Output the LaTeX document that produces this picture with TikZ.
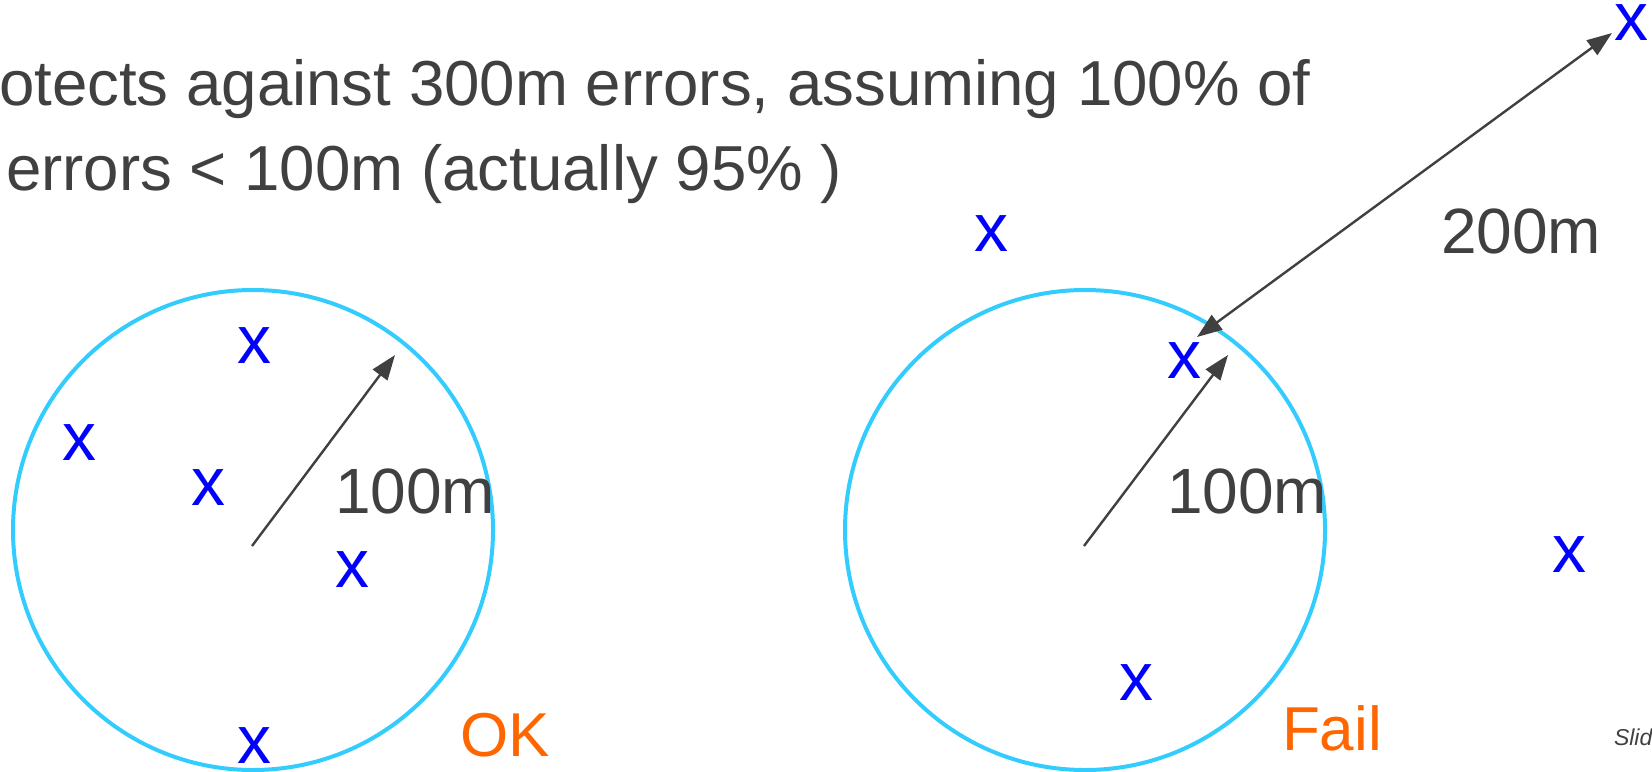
\documentclass[tikz,border=0pt]{standalone}
\usepackage{fontspec}
\setmainfont{Liberation Sans}
\usetikzlibrary{arrows.meta}
\definecolor{ink}{HTML}{404040}
\definecolor{ring}{HTML}{33CCFF}
\definecolor{fix}{HTML}{0000FF}
\definecolor{verdict}{HTML}{FF6600}

\begin{document}
\begin{tikzpicture}[
  x=0.5pt,y=-0.5pt,
  every node/.style={inner sep=0pt,outer sep=0pt},
  zone/.style={circle,draw=ring,line width=2pt,minimum size=240pt},
  fixmark/.style={text=fix,font=\fontsize{34}{40}\selectfont},
  body/.style={anchor=base west,text=ink,font=\fontsize{31.8}{38}\selectfont},
  dist/.style={anchor=base west,text=ink,font=\fontsize{32}{38}\selectfont},
  result/.style={anchor=base west,text=verdict,font=\fontsize{31}{37}\selectfont},
  arrow/.style={-{Triangle[length=12.5pt,width=9pt]},line width=1.2pt,draw=ink}
]
\useasboundingbox (0,0) rectangle (1652,771);
% heading
\node[body] (line1) at (-1,105) {otects against 300m errors, assuming 100\% of};
\node[body] (line2) at (6,190) {errors < 100m (actually 95\% )};
% left: all fixes inside
\node[zone] (okzone) at (253,530) {};
\node[fixmark] (ok1) at (254,346) {x};
\node[fixmark] (ok2) at (79,443) {x};
\node[fixmark] (ok3) at (208,488) {x};
\node[fixmark] (ok4) at (352,570) {x};
\node[fixmark] (ok5) at (254,746) {x};
\coordinate (okfrom) at (252,546);
\coordinate (okto) at (395,355);
\draw[arrow] (okfrom) -- (okto);
\node[dist] (okrad) at (335,513) {100m};
\node[result] (ok) at (460,756) {OK};
% right: one fix far away
\node[zone] (failzone) at (1085,530) {};
\node[fixmark] (f1) at (991,234) {x};
\node[fixmark] (f2) at (1184,361) {x};
\node[fixmark] (f3) at (1136,683) {x};
\node[fixmark] (f4) at (1569,555) {x};
\node[fixmark] (far) at (1631,23) {x};
\coordinate (failfrom) at (1084,546);
\coordinate (failto) at (1228,355);
\draw[arrow] (failfrom) -- (failto);
\node[dist] (failrad) at (1167,513) {100m};
\coordinate (gapin) at (1197,337);
\coordinate (gapout) at (1612,33);
\draw[arrow,{Triangle[length=12.5pt,width=9pt]}-{Triangle[length=12.5pt,width=9pt]}] (gapin) -- (gapout);
\node[dist] (gap) at (1441,253) {200m};
\node[result] (fail) at (1282,750) {Fail};
\node[anchor=base west,text=ink,font=\fontsize{11.5}{13}\selectfont\itshape] (slide) at (1614,745) {Slid};
\end{tikzpicture}
\end{document}
